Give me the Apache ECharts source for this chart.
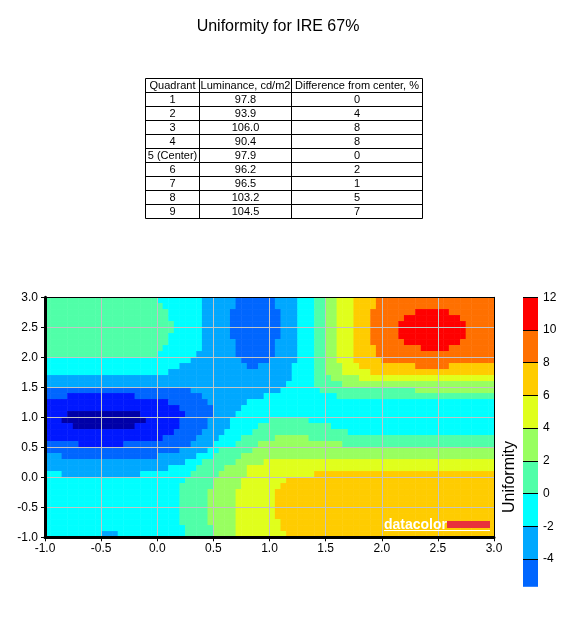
<!DOCTYPE html>
<html>
<head>
<meta charset="utf-8">
<title>Uniformity for IRE 67%</title>
<script src="https://cdn.jsdelivr.net/npm/echarts@6/dist/echarts.min.js"></script>
<style>
  html, body { margin: 0; padding: 0; background: #fff; }
  #chart { width: 571px; height: 619px; }
</style>
</head>
<body>
<div id="chart"></div>
<script>
var FONT = 'Liberation Sans, Arial, sans-serif';

// table
var tableHeader = ['Quadrant', 'Luminance, cd/m2', 'Difference from center, %'];
var quadrants = ['1', '2', '3', '4', '5 (Center)', '6', '7', '8', '9'];
var luminance = [97.8, 93.9, 106.0, 90.4, 97.9, 96.2, 96.5, 103.2, 104.5];
var difference = [0, 4, 8, 8, 0, 2, 1, 5, 7];

// contour bands (value = middle of the 2% band)
var bandCodes = ['N', 'B', 'b', 'L', 'C', 'M', 'G', 'Y', 'D', 'O', 'R'];
var bandLevels = [-9, -7, -5, -3, -1, 1, 3, 5, 7, 9, 11];
var bandColors = ['#0000a8', '#0018ff', '#0066ff', '#00a8ff', '#00ffff', '#50ffa8',
                  '#98ff60', '#e0ff1c', '#ffcc00', '#ff7000', '#ff0000'];

// colour scale on the right
var legendEdges = [-5.7, -4, -2, 0, 2, 4, 6, 8, 10, 12];
var legendColors = bandColors.slice(2);

// band of each cell (0.05 wide, 0.1 high),
// top row (y=2.95) first, x from -1 to 3, run-length coded
var fieldRows = [
  'M20 C8 L6 b7 L4 C3 M2 G2 Y3 D4 O21',
  'M21 C7 L6 b7 L4 C3 M2 G2 Y3 D4 O21',
  'M22 C6 L5 b9 L3 C3 M2 G2 Y3 D3 O8 R6 O8',
  'M22 C6 L5 b9 L3 C3 M2 G2 Y3 D3 O6 R10 O6',
  'M23 C5 L5 b9 L3 C3 M2 G2 Y3 D3 O5 R12 O5',
  'M23 C5 L5 b9 L3 C3 M2 G2 Y3 D3 O5 R12 O5',
  'M22 C6 L5 b9 L3 C3 M2 G2 Y3 D3 O5 R12 O5',
  'M22 C6 L6 b7 L4 C3 M2 G2 Y3 D3 O6 R10 O6',
  'M21 C7 L6 b7 L4 C3 M2 G2 Y3 D4 O8 R5 O8',
  'M20 C7 L7 b7 L4 C3 M2 G2 Y3 D4 O21',
  'C26 L9 b5 L5 C3 M2 G2 Y3 D5 O20',
  'C24 L12 b2 L6 C4 M2 G3 Y3 D10 O6 D8',
  'C22 L22 C4 M2 G3 Y5 D22',
  'L44 C4 M3 G5 Y24',
  'L43 C5 M5 G27',
  'b26 L16 C7 M17 G14',
  'b4 B12 b12 L11 C13 M28',
  'B22 b7 L7 C44',
  'B24 b6 L5 C45',
  'B4 N13 B8 b5 L4 C46',
  'B3 N15 B6 b5 L4 C7 M7 C33',
  'B5 N11 B8 b5 L4 C5 M13 C29',
  'B23 b5 L4 C5 M17 C26',
  'B21 b6 L4 C4 M6 G6 M33',
  'b6 B8 b12 L4 C4 M4 G15 M27',
  'b24 L5 C2 M6 G43',
  'L3 b17 L7 C3 M5 G45',
  'L25 C3 M6 G5 Y41',
  'L22 C5 M5 G4 Y44',
  'C3 L14 C9 M5 G5 Y12 D32',
  'C25 M5 G5 Y8 D37',
  'C24 M6 G5 Y7 D38',
  'C24 M5 G5 Y7 D39',
  'C24 M5 G5 Y7 D39',
  'C24 M5 G5 Y7 D39',
  'C24 M5 G5 Y7 D39',
  'C24 M5 G5 Y7 D39',
  'C24 M5 G5 Y8 D38',
  'C25 M5 G4 Y8 D38',
  'C10 L3 C12 M5 G4 Y9 D37'
];

function decodeRow(s) {
  var out = [];
  s.split(' ').forEach(function (run) {
    var code = run.charAt(0);
    var n = parseInt(run.slice(1), 10);
    for (var i = 0; i < n; i++) out.push(code);
  });
  return out;
}

var cells = [];
var nCols = 0;
fieldRows.forEach(function (row, r) {
  var codes = decodeRow(row);
  nCols = Math.max(nCols, codes.length);
  codes.forEach(function (code, c) {
    cells.push([c, fieldRows.length - 1 - r, bandLevels[bandCodes.indexOf(code)]]);
  });
});
var colCats = [], rowCats = [];
for (var i = 0; i < nCols; i++) colCats.push(String(i));
for (var j = 0; j < fieldRows.length; j++) rowCats.push(String(j));

// colour scale: stacked segments (negatives grow down from 0)
var scaleSeries = [];
var segs = [];
for (var k = 0; k < legendColors.length; k++) {
  segs.push({ lo: legendEdges[k], hi: legendEdges[k + 1], color: legendColors[k] });
}
var neg = segs.filter(function (s) { return s.hi <= 0; }).reverse();
var pos = segs.filter(function (s) { return s.lo >= 0; });
neg.concat(pos).forEach(function (s) {
  scaleSeries.push({
    type: 'bar',
    xAxisIndex: 3,
    yAxisIndex: 3,
    stack: 'scale',
    barWidth: '100%',
    silent: true,
    data: [s.hi <= 0 ? s.lo - s.hi : s.hi - s.lo],
    itemStyle: { color: s.color }
  });
});
scaleSeries[scaleSeries.length - 1].z = 4;
scaleSeries[scaleSeries.length - 1].markLine = {
  silent: true,
  symbol: ['none', 'none'],
  label: { show: false },
  lineStyle: { color: '#000', width: 1, type: 'solid' },
  data: legendEdges.slice(1).map(function (v) { return { yAxis: v }; })
};

// table + texts
var graphics = [];
var colX = [145.5, 199.5, 291.5, 422.5];
var rowTop = 78.5, rowH = 14;
var tableRows = [tableHeader].concat(quadrants.map(function (q, i) {
  return [q, luminance[i].toFixed(1), String(difference[i])];
}));
for (var h = 0; h <= tableRows.length; h++) {
  graphics.push({ type: 'line', shape: { x1: colX[0], y1: rowTop + h * rowH, x2: colX[3], y2: rowTop + h * rowH },
    style: { stroke: '#000', lineWidth: 1 } });
}
colX.forEach(function (x) {
  graphics.push({ type: 'line', shape: { x1: x, y1: rowTop, x2: x, y2: rowTop + tableRows.length * rowH },
    style: { stroke: '#000', lineWidth: 1 } });
});
tableRows.forEach(function (row, r) {
  row.forEach(function (t, c) {
    graphics.push({ type: 'text', x: (colX[c] + colX[c + 1]) / 2, y: rowTop + r * rowH + rowH / 2 + 0.5,
      style: { text: t, fill: '#000', font: '11px ' + FONT,
               textAlign: 'center', textVerticalAlign: 'middle', align: 'center', verticalAlign: 'middle' } });
  });
});
graphics.push({ type: 'text', x: 278, y: 27,
  style: { text: 'Uniformity for IRE 67%', fill: '#000', font: '16px ' + FONT,
           textAlign: 'center', textVerticalAlign: 'middle', align: 'center', verticalAlign: 'middle' } });
graphics.push({ type: 'text', x: 510, y: 477, rotation: Math.PI / 2,
  style: { text: 'Uniformity', fill: '#000', font: '16px ' + FONT,
           textAlign: 'center', textVerticalAlign: 'middle', align: 'center', verticalAlign: 'middle' } });
// datacolor mark
graphics.push({ type: 'text', x: 384, y: 525, z: 100,
  style: { text: 'datacolor', fill: '#fff', font: 'bold 14px ' + FONT,
           textAlign: 'left', textVerticalAlign: 'middle', align: 'left', verticalAlign: 'middle' } });
graphics.push({ type: 'rect', z: 100, shape: { x: 447, y: 521, width: 43, height: 7 }, style: { fill: '#e8323c' } });
graphics.push({ type: 'rect', z: 100, shape: { x: 384, y: 530, width: 106, height: 1 }, style: { fill: '#fff' } });

var labelStyle = { color: '#000', fontSize: 12, fontFamily: FONT };

var chart = echarts.init(document.getElementById('chart'));
chart.setOption({
  animation: false,
  backgroundColor: '#fff',
  grid: [
    { left: 45, top: 297.3, width: 449, height: 240 },
    { left: 45, top: 297.3, width: 449, height: 240 },
    { left: 523, top: 297.3, width: 15, height: 294.4 }
  ],
  xAxis: [
    { type: 'category', gridIndex: 0, data: colCats, show: false },
    { type: 'value', gridIndex: 1, min: -1, max: 3, interval: 0.5, z: 5,
      axisLine: { onZero: false, lineStyle: { color: '#000', width: 3 } },
      axisTick: { length: 4, lineStyle: { color: '#000' } },
      axisLabel: Object.assign({ margin: 5, formatter: function (v) { return v.toFixed(1); } }, labelStyle),
      splitLine: { show: true, lineStyle: { color: '#c4c4c4', width: 1 } } },
    { type: 'value', gridIndex: 1, position: 'top', min: -1, max: 3, z: 5,
      axisLine: { onZero: false, lineStyle: { color: '#000', width: 1 } },
      axisTick: { show: false }, axisLabel: { show: false }, splitLine: { show: false } },
    { type: 'category', gridIndex: 2, data: ['scale'], show: false }
  ],
  yAxis: [
    { type: 'category', gridIndex: 0, data: rowCats, show: false },
    { type: 'value', gridIndex: 1, min: -1, max: 3, interval: 0.5, z: 5,
      axisLine: { show: true, onZero: false, lineStyle: { color: '#000', width: 3 } },
      axisTick: { show: true, length: 4, lineStyle: { color: '#000' } },
      axisLabel: Object.assign({ margin: 7, formatter: function (v) { return v.toFixed(1); } }, labelStyle),
      splitLine: { show: true, lineStyle: { color: '#c4c4c4', width: 1 } } },
    { type: 'value', gridIndex: 1, position: 'right', min: -1, max: 3, z: 5,
      axisLine: { show: true, onZero: false, lineStyle: { color: '#000', width: 1 } },
      axisTick: { show: false }, axisLabel: { show: false }, splitLine: { show: false } },
    { type: 'value', gridIndex: 2, position: 'right', min: -6, max: 12, interval: 2,
      axisLine: { show: false }, axisTick: { show: false }, splitLine: { show: false },
      axisLabel: Object.assign({ margin: 5, showMinLabel: false, showMaxLabel: true }, labelStyle) }
  ],
  visualMap: {
    type: 'piecewise',
    show: false,
    seriesIndex: 0,
    pieces: bandLevels.map(function (v, i) { return { value: v, color: bandColors[i] }; })
  },
  graphic: graphics,
  series: [
    { type: 'heatmap', xAxisIndex: 0, yAxisIndex: 0, data: cells, silent: true,
      itemStyle: { borderWidth: 0 }, emphasis: { disabled: true } }
  ].concat(scaleSeries)
});
</script>
</body>
</html>
